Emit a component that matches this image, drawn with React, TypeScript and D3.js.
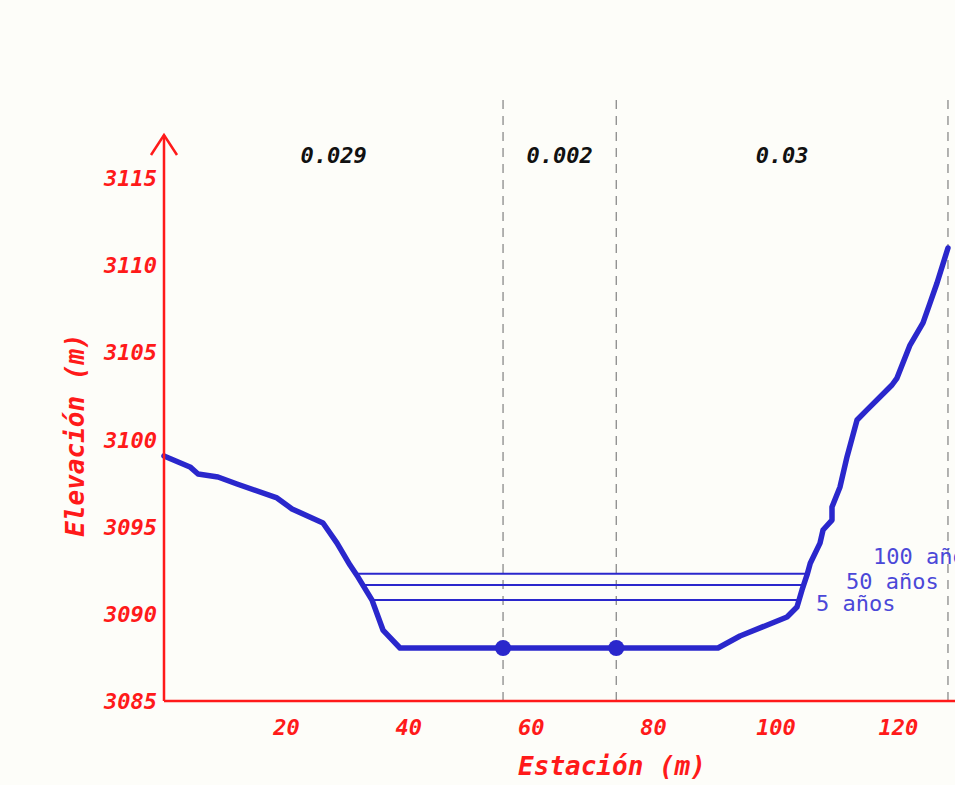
import React from "react";
import * as d3 from "d3";

const stations = [0, 4.25, 5.56, 8.82, 11.93, 18.46, 20.92, 25.98, 28.27, 30.39, 31.7, 33.99, 35.78, 38.56, 90.52, 94.12, 97.8, 101.8, 103.43, 104.25, 105.07, 105.6, 107.19, 107.68, 109.15, 109.15, 110.46, 111.6, 113.24, 114.87, 118.95, 119.77, 121.9, 124.02, 125.16, 126.31, 128.1];
const elevations = [3099.06, 3098.43, 3098.02, 3097.85, 3097.45, 3096.65, 3096.02, 3095.21, 3094.06, 3092.8, 3092.11, 3090.79, 3089.07, 3088.04, 3088.04, 3088.73, 3089.25, 3089.82, 3090.39, 3091.37, 3092.23, 3092.9, 3094.06, 3094.81, 3095.38, 3096.13, 3097.28, 3099.0, 3101.12, 3101.7, 3103.13, 3103.53, 3105.42, 3106.69, 3107.83, 3108.98, 3110.99];

const dividers = [55.4, 73.9, 128.1];
const roughness = ["0.029", "0.002", "0.03"];
const roughnessBounds = [0, 55.4, 73.9, 128.1];
const bedPoints = [55.4, 73.9];
const bedElevation = 3088.04;
const waterLevels = [3092.3, 3091.65, 3090.8];
const waterLabels = ["100 años", "50 años", "5 años"];
const xTicks = [20, 40, 60, 80, 100, 120];
const yTicks = [3085, 3090, 3095, 3100, 3105, 3110, 3115];

const RED = "#ff1a1a";
const BLUE = "#2a27cc";
const LBLUE = "#4b48d8";
const FONT = "'DejaVu Sans Mono', 'Liberation Mono', monospace";

function crossings(level: number): [number, number] {
  const pts: number[] = [];
  for (let i = 0; i < stations.length - 1; i++) {
    const e0 = elevations[i], e1 = elevations[i + 1];
    if ((e0 - level) * (e1 - level) <= 0 && e0 !== e1) {
      const t = (level - e0) / (e1 - e0);
      pts.push(stations[i] + t * (stations[i + 1] - stations[i]));
    }
  }
  return [pts[0], pts[pts.length - 1]];
}

export default function App() {
  const x = d3.scaleLinear().domain([0, 130]).range([164, 164 + 130 * 6.12]);
  const y = d3.scaleLinear().domain([3085, 3115]).range([701, 178.1]);
  const line = d3
    .line<number>()
    .x((_, i) => x(stations[i]))
    .y((d) => y(d));
  const terrain = line(elevations) || "";
  const labelX = [873, 846, 816];
  const labelDy = [-10, 4, 11];

  return (
    <svg width={955} height={785} style={{ position: "absolute", left: 0, top: 0, background: "#fdfdf9" }}>
      <rect x={0} y={0} width={955} height={785} fill="#fdfdf9" />
      {dividers.map((d, i) => (
        <line key={"dv" + i} x1={x(d)} x2={x(d)} y1={100} y2={y(3085)} stroke="#8a8a8a" strokeWidth={1.3} strokeDasharray="9,7" />
      ))}
      {roughness.map((r, i) => (
        <text key={"r" + i} x={(x(roughnessBounds[i]) + x(roughnessBounds[i + 1])) / 2} y={163} textAnchor="middle"
          fontFamily={FONT} fontSize={22} fontWeight="bold" fontStyle="italic" fill="#111">{r}</text>
      ))}
      {waterLevels.map((w, i) => {
        const [a, b] = crossings(w);
        return <line key={"w" + i} x1={x(a)} x2={x(b)} y1={y(w)} y2={y(w)} stroke={BLUE} strokeWidth={2} />;
      })}
      <path d={terrain} fill="none" stroke={BLUE} strokeWidth={5.5} strokeLinejoin="round" strokeLinecap="round" />
      {bedPoints.map((b, i) => (
        <circle key={"b" + i} cx={x(b)} cy={y(bedElevation)} r={8} fill={BLUE} />
      ))}
      {waterLabels.map((l, i) => (
        <text key={"wl" + i} x={labelX[i]} y={y(waterLevels[i]) + labelDy[i]} fontFamily={FONT} fontSize={22} fill={LBLUE}>{l}</text>
      ))}
      <line x1={164} x2={980} y1={y(3085)} y2={y(3085)} stroke={RED} strokeWidth={2.5} />
      <line x1={164} x2={164} y1={y(3085)} y2={135} stroke={RED} strokeWidth={2.5} />
      <polyline points="151,155 164,135 177,155" fill="none" stroke={RED} strokeWidth={2.5} />
      {yTicks.map((t) => (
        <text key={"yt" + t} x={157} y={y(t) + 8} textAnchor="end" fontFamily={FONT} fontSize={22} fontWeight="bold" fontStyle="italic" fill={RED}>{t}</text>
      ))}
      {xTicks.map((t) => (
        <text key={"xt" + t} x={x(t)} y={735} textAnchor="middle" fontFamily={FONT} fontSize={22} fontWeight="bold" fontStyle="italic" fill={RED}>{t}</text>
      ))}
      <text x={612} y={775} textAnchor="middle" fontFamily={FONT} fontSize={26} fontWeight="bold" fontStyle="italic" fill={RED}>Estación (m)</text>
      <text transform="translate(84,435) rotate(-90)" textAnchor="middle" fontFamily={FONT} fontSize={26} fontWeight="bold" fontStyle="italic" fill={RED}>Elevación (m)</text>
    </svg>
  );
}
